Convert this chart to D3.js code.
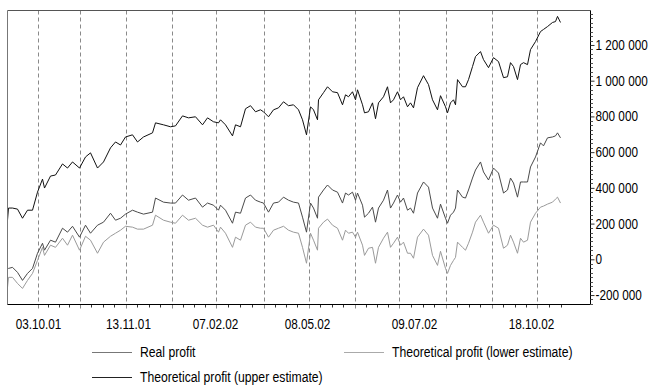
<!DOCTYPE html>
<html>
<head>
<meta charset="utf-8">
<script src="https://cdn.jsdelivr.net/npm/d3@7"></script>
<style>
  html, body { margin: 0; padding: 0; background: #fff; }
  svg { display: block; font-family: "Liberation Sans", Arial, sans-serif; }
</style>
</head>
<body>
<div id="chart"></div>
<script>
// trade number (x) shared by the three series
const trades = [0, 1, 5, 10, 15, 20, 25, 30, 35, 37, 43, 48, 55, 60, 65, 72, 78, 83, 90, 96,
  103, 108, 113, 118, 125, 130, 136, 145, 148, 156, 163, 168, 175, 181, 188, 195, 200, 206, 211,
  213, 218, 225, 228, 233, 238, 243, 248, 253, 256, 261, 266, 271, 276, 281, 286, 291, 295, 299, 303,
  306, 310, 311, 316, 320, 325, 330, 335, 338, 341, 345, 348, 350, 355, 357, 361, 365, 368, 371, 376,
  380, 383, 386, 390, 393, 396, 400, 403, 406, 410, 416, 421, 425, 430, 433, 438, 440, 443, 446, 448,
  450, 455, 458, 461, 465, 468, 473, 476, 481, 486, 491, 496, 500, 503, 506, 510, 513, 516, 520, 523,
  528, 533, 536, 540, 545, 548, 550, 553];

const realProfit = [-51000, -51000, -45000, -73000, -118000, -79000, -51000, 34000, 90000, 51000,
  107000, 96000, 174000, 152000, 185000, 124000, 191000, 146000, 191000, 208000,
  258000, 219000, 230000, 253000, 275000, 264000, 253000, 264000, 343000, 320000,
  315000, 315000, 360000, 331000, 343000, 292000, 315000, 303000, 275000,
  303000, 275000, 202000, 264000, 258000, 343000, 360000, 331000, 320000, 315000,
  264000, 315000, 320000, 348000, 331000, 320000, 315000, 236000, 152000, 315000,
  287000, 230000, 348000, 388000, 416000, 388000, 376000, 315000, 371000, 360000,
  376000, 331000, 371000, 303000, 236000, 258000, 292000, 208000, 287000, 331000,
  388000, 287000, 315000, 360000, 320000, 343000, 275000, 287000, 258000, 371000,
  433000, 404000, 287000, 230000, 309000, 230000, 202000, 247000, 264000, 287000,
  388000, 348000, 343000, 388000, 455000, 500000, 545000, 489000, 444000, 511000,
  483000, 371000, 388000, 455000, 427000, 348000, 433000, 433000, 433000, 517000,
  573000, 652000, 635000, 680000, 685000, 691000, 708000, 680000];

const lowerEstimate = [-157000, -101000, -101000, -135000, -163000, -118000, -79000, -6000, 67000, 22000,
  79000, 67000, 118000, 79000, 135000, 51000, 129000, 107000, 34000, 96000,
  129000, 146000, 163000, 185000, 180000, 169000, 169000, 191000, 247000, 219000,
  208000, 202000, 247000, 219000, 230000, 191000, 180000, 191000, 152000,
  180000, 146000, 67000, 124000, 107000, 191000, 208000, 180000, 174000, 174000,
  124000, 163000, 174000, 185000, 163000, 152000, 146000, 67000, -22000, 146000,
  107000, 51000, 174000, 208000, 225000, 191000, 174000, 107000, 163000, 146000,
  152000, 124000, 152000, 79000, 22000, 62000, 67000, -22000, 67000, 118000,
  152000, 67000, 90000, 124000, 79000, 96000, 34000, 34000, 6000, 124000,
  169000, 135000, 22000, -34000, 45000, -51000, -79000, -34000, -6000, 11000,
  96000, 67000, 51000, 90000, 152000, 208000, 247000, 208000, 146000, 191000,
  174000, 62000, 79000, 135000, 96000, 34000, 118000, 96000, 107000, 208000,
  258000, 292000, 298000, 309000, 320000, 337000, 348000, 315000];

const upperEstimate = [219000, 287000, 287000, 281000, 230000, 275000, 275000, 376000, 449000, 399000,
  466000, 472000, 534000, 511000, 545000, 511000, 573000, 596000, 511000, 545000,
  624000, 657000, 640000, 685000, 697000, 657000, 685000, 708000, 764000, 753000,
  742000, 747000, 803000, 792000, 798000, 753000, 792000, 770000, 764000,
  781000, 753000, 691000, 753000, 742000, 843000, 860000, 826000, 837000, 826000,
  798000, 837000, 848000, 882000, 860000, 865000, 837000, 781000, 697000, 854000,
  837000, 781000, 893000, 933000, 966000, 938000, 933000, 865000, 921000, 910000,
  938000, 893000, 949000, 865000, 820000, 826000, 876000, 787000, 876000, 910000,
  966000, 876000, 893000, 938000, 893000, 910000, 854000, 876000, 848000, 961000,
  1028000, 978000, 893000, 837000, 916000, 854000, 820000, 876000, 893000, 865000,
  1006000, 966000, 966000, 1006000, 1079000, 1135000, 1163000, 1118000, 1073000, 1129000,
  1107000, 1017000, 1022000, 1101000, 1079000, 1006000, 1090000, 1101000, 1090000, 1174000,
  1219000, 1275000, 1287000, 1303000, 1326000, 1331000, 1360000, 1326000];

// vertical grid lines and date labels (in trade numbers)
const gridTrades = [30, 72, 118, 164, 209, 256, 301, 347, 392, 438, 484, 530];
const dateTrades = [31, 121, 208, 300, 407, 524];
const dateLabels = ['03.10.01', '13.11.01', '07.02.02', '08.05.02', '09.07.02', '18.10.02'];
const yTicks = [-200000, 0, 200000, 400000, 600000, 800000, 1000000, 1200000];

const seriesNames = ['Real profit', 'Theoretical profit (lower estimate)', 'Theoretical profit (upper estimate)'];

const W = 651, H = 387;
const plot = { left: 7.5, top: 10.5, right: 590.5, bottom: 304.5 };
// squeeze factors so Liberation Sans looks like the narrow face of the original
const narrowNum = 0.84;
const narrowText = 0.87;

const svg = d3.select('#chart').append('svg')
  .attr('width', W)
  .attr('height', H);

const x = d3.scaleLinear().domain([0, 583]).range([plot.left, plot.right]);
const y = d3.scaleLinear().domain([-253000, 1393000]).range([plot.bottom, plot.top]);

const fmt = d3.formatLocale({ decimal: ',', thousands: ' ', grouping: [3], currency: ['', ''], minus: '-' }).format(',d');

// grid
svg.append('g')
  .selectAll('line')
  .data(gridTrades)
  .enter().append('line')
  .attr('x1', d => Math.round(x(d)) + 0.5)
  .attr('x2', d => Math.round(x(d)) + 0.5)
  .attr('y1', plot.top)
  .attr('y2', plot.bottom + 4)
  .attr('stroke', '#8a8a8a')
  .attr('stroke-dasharray', '4,3');

// minor ticks on the bottom axis (quarters between grid lines)
const minor = [];
gridTrades.forEach((g, i) => {
  const next = gridTrades[i + 1];
  const step = next !== undefined ? (next - g) / 4 : (g - gridTrades[i - 1]) / 4;
  const count = next !== undefined ? 3 : 2;
  for (let k = 1; k <= count; k++) minor.push(g + step * k);
});
svg.append('g')
  .selectAll('line')
  .data(minor)
  .enter().append('line')
  .attr('x1', d => Math.round(x(d)) + 0.5)
  .attr('x2', d => Math.round(x(d)) + 0.5)
  .attr('y1', plot.bottom)
  .attr('y2', plot.bottom + 3)
  .attr('stroke', '#333');

// series lines
const line = d3.line()
  .x((d, i) => x(trades[i]))
  .y(d => y(d));

const series = [
  { values: lowerEstimate, color: '#9a9a9a' },
  { values: realProfit, color: '#4a4a4a' },
  { values: upperEstimate, color: '#111' }
];
svg.append('g')
  .selectAll('path')
  .data(series)
  .enter().append('path')
  .attr('fill', 'none')
  .attr('stroke', d => d.color)
  .attr('stroke-width', 1)
  .attr('d', d => line(d.values));

// frame
svg.append('line').attr('x1', plot.left).attr('x2', plot.right).attr('y1', plot.top).attr('y2', plot.top).attr('stroke', '#555');
svg.append('line').attr('x1', plot.left).attr('x2', plot.left).attr('y1', plot.top).attr('y2', plot.bottom).attr('stroke', '#777');
svg.append('line').attr('x1', plot.left).attr('x2', plot.right).attr('y1', plot.bottom).attr('y2', plot.bottom).attr('stroke', '#000');
svg.append('line').attr('x1', plot.right).attr('x2', plot.right).attr('y1', plot.top).attr('y2', plot.bottom).attr('stroke', '#000');

// right axis: minor ticks every 25 000, labelled ticks every 200 000
const yMinor = d3.range(-250000, 1393000, 25000).filter(v => v % 200000 !== 0);
svg.append('g')
  .selectAll('line')
  .data(yMinor)
  .enter().append('line')
  .attr('x1', plot.right)
  .attr('x2', plot.right + 2.5)
  .attr('y1', d => Math.round(y(d)) + 0.5)
  .attr('y2', d => Math.round(y(d)) + 0.5)
  .attr('stroke', '#555');

const yAxis = svg.append('g')
  .attr('transform', `translate(${plot.right},0)`)
  .call(d3.axisRight(y).tickValues(yTicks).tickSize(4).tickFormat(''));
yAxis.select('.domain').remove();
yAxis.selectAll('line').attr('stroke', '#333');

svg.append('g')
  .selectAll('text')
  .data(yTicks)
  .enter().append('text')
  .attr('transform', d => `translate(${plot.right + 5},${y(d) + 5}) scale(${narrowNum},1)`)
  .attr('font-size', 14)
  .text(d => fmt(d));

// date labels
svg.append('g')
  .selectAll('text')
  .data(dateTrades)
  .enter().append('text')
  .attr('transform', d => `translate(${x(d)},329) scale(${narrowNum},1)`)
  .attr('text-anchor', 'middle')
  .attr('font-size', 14)
  .text((d, i) => dateLabels[i]);

// legend
const legendItems = [
  { name: seriesNames[0], color: '#777', lx: 92, ly: 352 },
  { name: seriesNames[1], color: '#aaa', lx: 344, ly: 352 },
  { name: seriesNames[2], color: '#222', lx: 92, ly: 377 }
];
const lg = svg.append('g')
  .selectAll('g')
  .data(legendItems)
  .enter().append('g')
  .attr('transform', d => `translate(${d.lx},${d.ly})`);
lg.append('line')
  .attr('x1', 0).attr('x2', 40)
  .attr('y1', 0.5).attr('y2', 0.5)
  .attr('stroke', d => d.color);
lg.append('text')
  .attr('transform', `translate(48,5) scale(${narrowText},1)`)
  .attr('font-size', 14)
  .text(d => d.name);
</script>
</body>
</html>
